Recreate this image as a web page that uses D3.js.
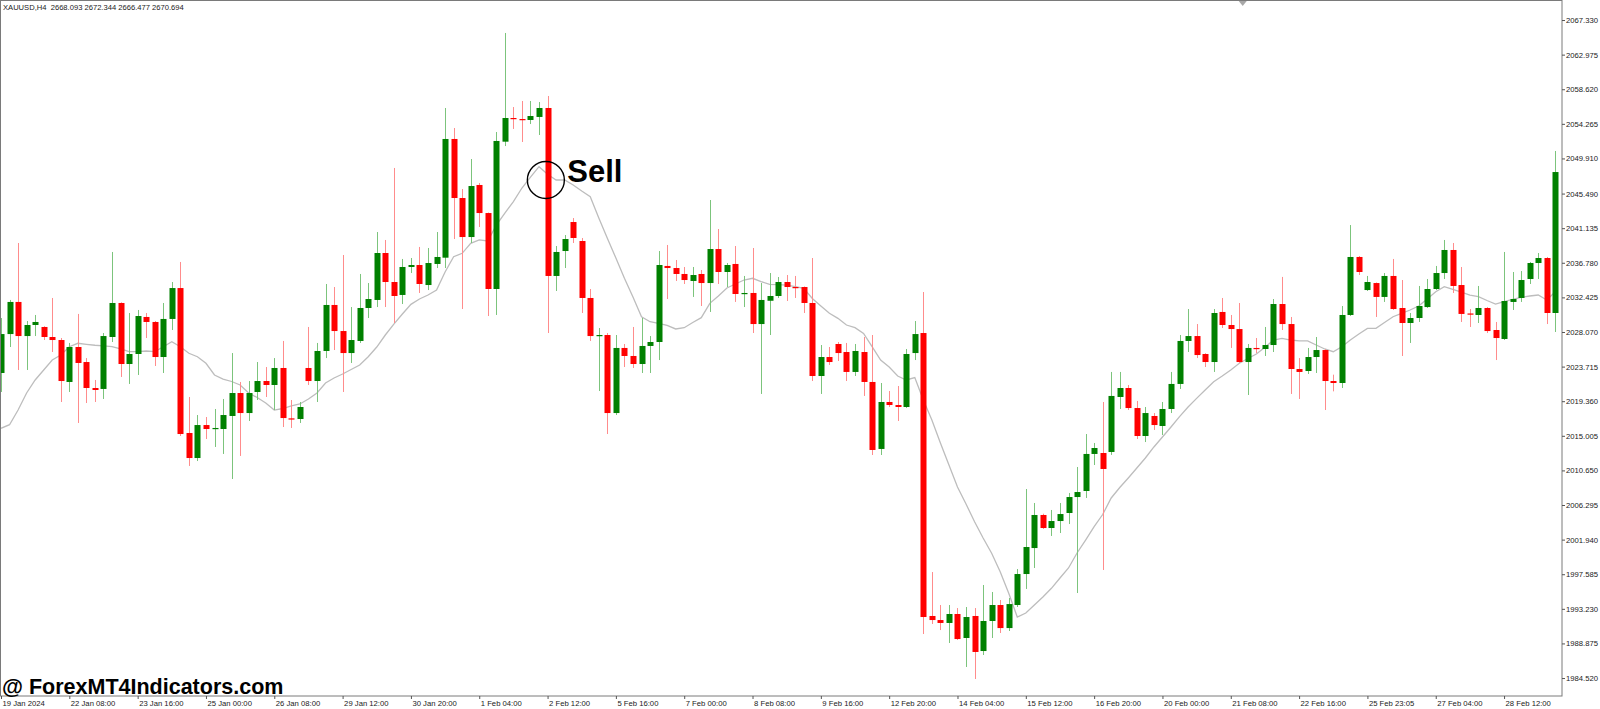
<!DOCTYPE html>
<html><head><meta charset="utf-8">
<script src="https://cdn.jsdelivr.net/npm/d3@7"></script>
<style>html,body{margin:0;padding:0;background:#fff;overflow:hidden}</style>
</head><body>
<svg id="c" width="1600" height="709"></svg>
<script>
const symbolTitle = "XAUUSD,H4  2668.093 2672.344 2666.477 2670.694";
const timeLabels = ["19 Jan 2024","22 Jan 08:00","23 Jan 16:00","25 Jan 00:00","26 Jan 08:00","29 Jan 12:00","30 Jan 20:00","1 Feb 04:00","2 Feb 12:00","5 Feb 16:00","7 Feb 00:00","8 Feb 08:00","9 Feb 16:00","12 Feb 20:00","14 Feb 04:00","15 Feb 12:00","16 Feb 20:00","20 Feb 00:00","21 Feb 08:00","22 Feb 16:00","25 Feb 23:05","27 Feb 04:00","28 Feb 12:00"];
const timeLabelBars = [0,8,16,24,32,40,48,56,64,72,80,88,96,104,112,120,128,136,144,152,160,168,176];
const priceTicks = [2067.330,2062.975,2058.620,2054.265,2049.910,2045.490,2041.135,2036.780,2032.425,2028.070,2023.715,2019.360,2015.005,2010.650,2006.295,2001.940,1997.585,1993.230,1988.875,1984.520];

const opens = [2022.91,2027.81,2031.85,2027.56,2028.95,2028.70,2027.44,2027.06,2021.78,2026.18,
2024.29,2021.02,2020.90,2027.44,2031.72,2024.04,2025.30,2029.96,2029.33,2024.92,
2029.71,2033.60,2015.36,2012.21,2016.36,2015.86,2015.86,2017.50,2020.39,2017.87,
2020.52,2021.90,2021.40,2023.54,2017.20,2017.12,2023.54,2021.90,2025.68,2031.47,
2028.19,2025.42,2026.94,2031.09,2032.10,2038.01,2034.36,2032.73,2036.25,2036.50,
2033.98,2036.63,2037.42,2052.36,2044.93,2040.02,2046.57,2043.04,2033.48,2052.02,
2055.00,2054.87,2054.75,2055.13,2056.26,2035.12,2038.26,2041.91,2039.52,2032.35,
2027.60,2027.69,2017.87,2026.06,2025.05,2024.04,2026.31,2026.81,2036.38,2036.12,
2035.37,2034.49,2035.37,2034.23,2038.51,2035.62,2036.63,2032.90,2032.98,2029.07,
2032.00,2032.60,2034.36,2033.73,2033.73,2031.72,2022.53,2024.92,2026.56,2025.55,
2023.04,2025.55,2021.78,2013.35,2019.26,2018.88,2018.63,2025.42,2027.94,1992.33,
1991.82,1991.45,1992.58,1989.56,1992.33,1987.92,1991.70,1993.71,1990.81,1993.71,
1997.61,2000.88,2005.04,2003.40,2004.28,2005.29,2007.30,2008.06,2012.72,2012.84,
2012.97,2019.89,2021.02,2018.50,2014.98,2017.50,2016.24,2018.38,2021.53,2026.94,
2027.56,2025.30,2024.29,2030.59,2028.95,2028.44,2024.29,2026.06,2025.93,2026.43,
2031.59,2029.07,2023.41,2023.16,2024.92,2025.80,2021.90,2021.65,2030.21,2037.51,
2033.35,2034.23,2032.48,2035.12,2031.09,2029.20,2029.83,2031.21,2033.48,2035.49,
2038.39,2033.98,2030.40,2030.21,2031.09,2028.32,2027.19,2031.85,2032.35,2034.74,
2036.75,2037.38,2030.46];

const highs = [2029.83,2032.10,2039.27,2029.45,2030.21,2028.80,2032.35,2027.31,2026.69,2030.34,
2024.79,2022.03,2027.94,2038.14,2031.80,2030.46,2030.84,2030.46,2029.45,2031.72,
2034.36,2036.88,2019.89,2017.62,2017.37,2018.38,2019.64,2025.42,2021.78,2021.90,
2024.29,2023.66,2024.79,2026.94,2019.51,2019.26,2028.70,2026.69,2034.11,2033.73,
2037.76,2031.21,2035.37,2034.23,2040.65,2039.65,2048.71,2037.26,2037.38,2038.77,
2038.64,2040.65,2056.26,2053.74,2046.06,2049.84,2046.82,2043.10,2053.24,2065.70,
2056.38,2057.14,2057.14,2057.01,2057.77,2038.89,2040.27,2042.41,2039.90,2033.48,
2028.57,2027.94,2027.69,2026.56,2028.70,2029.83,2027.56,2038.26,2039.02,2037.13,
2036.25,2036.25,2035.87,2044.68,2041.03,2036.75,2038.89,2035.12,2038.64,2034.23,
2035.49,2034.99,2035.24,2035.12,2033.80,2037.38,2026.43,2026.18,2026.81,2026.69,
2026.56,2027.44,2027.69,2021.65,2020.64,2021.27,2025.93,2029.45,2033.10,1997.86,
1993.71,1993.71,1993.33,1993.46,1993.33,1996.23,1995.35,1994.34,1994.59,1998.24,
2008.31,2006.55,2005.20,2005.67,2006.55,2007.81,2011.08,2015.23,2014.10,2019.26,
2023.04,2023.04,2021.40,2019.39,2018.63,2017.87,2019.26,2023.04,2027.69,2030.96,
2029.07,2025.40,2030.96,2032.35,2030.21,2031.72,2026.56,2027.31,2028.70,2032.22,
2035.00,2029.96,2024.79,2026.06,2027.44,2025.90,2022.70,2031.34,2041.53,2037.63,
2035.12,2034.30,2035.49,2037.26,2034.61,2030.46,2033.86,2034.74,2036.38,2039.65,
2039.27,2036.25,2030.96,2033.86,2031.20,2029.33,2038.14,2035.62,2035.74,2036.88,
2038.01,2037.51,2050.85];

const lows = [2020.52,2026.18,2023.29,2023.29,2027.56,2027.06,2025.55,2019.26,2020.52,2016.62,
2019.13,2019.26,2019.64,2026.81,2022.41,2021.53,2022.66,2027.31,2023.79,2022.91,
2028.32,2014.98,2011.21,2011.83,2014.60,2013.60,2012.72,2009.57,2012.47,2016.87,
2019.51,2019.89,2018.25,2016.11,2015.99,2016.62,2021.40,2019.26,2024.79,2025.80,
2020.52,2024.17,2026.69,2029.83,2031.21,2031.21,2029.20,2031.59,2035.49,2032.98,
2033.35,2036.12,2036.12,2039.77,2030.96,2039.27,2041.28,2030.08,2030.21,2051.47,
2053.62,2051.98,2054.24,2052.86,2027.94,2033.23,2036.12,2039.27,2030.46,2026.94,
2020.64,2015.23,2017.62,2023.66,2023.54,2022.91,2022.91,2024.54,2032.22,2034.49,
2034.11,2032.48,2031.34,2030.59,2034.11,2033.73,2031.85,2031.21,2027.94,2020.27,
2027.69,2032.35,2031.97,2032.35,2030.46,2021.90,2020.27,2023.92,2024.42,2021.90,
2022.53,2020.02,2012.59,2012.59,2018.63,2016.87,2018.50,2024.54,1990.06,1991.32,
1990.56,1988.93,1989.31,1985.91,1984.40,1987.42,1989.56,1990.19,1990.44,1993.46,
1995.73,1998.37,2003.28,2002.40,2002.77,2003.90,1995.22,2007.18,2011.33,1998.12,
2012.60,2018.38,2018.25,2014.60,2014.22,2015.74,2015.11,2017.87,2020.90,2025.55,
2024.79,2023.66,2023.04,2028.57,2026.06,2024.17,2020.14,2025.42,2025.05,2025.55,
2028.32,2020.27,2019.64,2022.78,2022.91,2018.25,2020.60,2021.02,2030.08,2035.24,
2033.23,2029.96,2031.85,2030.84,2025.05,2026.69,2029.33,2031.09,2033.35,2034.74,
2032.98,2029.33,2028.70,2029.20,2027.94,2024.54,2027.06,2030.84,2031.85,2034.11,
2034.74,2029.07,2028.07];

const closes = [2027.81,2031.85,2027.56,2028.95,2029.33,2027.44,2027.06,2021.90,2026.18,2024.17,
2021.02,2020.77,2027.56,2031.72,2024.04,2025.30,2030.08,2029.33,2024.92,2029.71,
2033.60,2015.23,2012.21,2016.36,2015.86,2015.99,2017.62,2020.39,2017.87,2020.39,
2021.90,2021.40,2023.54,2017.24,2017.12,2018.63,2021.90,2025.68,2031.47,2028.19,
2025.42,2027.06,2031.09,2032.22,2038.01,2034.36,2032.60,2036.25,2036.50,2034.11,
2036.75,2037.51,2052.36,2044.93,2040.02,2046.44,2043.04,2033.48,2052.11,2055.00,
2054.87,2054.75,2055.25,2056.26,2035.12,2038.14,2039.77,2039.90,2032.35,2027.56,
2027.69,2017.87,2026.06,2025.05,2024.04,2026.31,2026.81,2036.50,2036.12,2035.37,
2034.61,2035.24,2034.23,2038.51,2035.62,2036.50,2032.85,2032.98,2029.07,2032.10,
2032.60,2034.36,2033.73,2033.67,2031.72,2022.53,2024.92,2024.29,2025.42,2023.04,
2025.68,2021.78,2013.22,2019.26,2018.88,2018.63,2025.30,2027.81,1992.20,1991.82,
1991.45,1992.58,1989.43,1992.20,1987.80,1991.70,1993.71,1990.81,1993.83,1997.61,
2001.01,2005.04,2003.40,2004.28,2005.16,2007.30,2007.93,2012.72,2013.47,2010.83,
2020.02,2021.02,2018.50,2014.98,2017.87,2016.36,2018.38,2021.53,2026.94,2027.56,
2025.17,2024.29,2030.46,2028.95,2028.44,2024.29,2026.06,2025.93,2026.43,2031.59,
2029.07,2023.41,2023.04,2024.92,2025.80,2021.90,2021.65,2030.21,2037.51,2035.62,
2034.36,2032.48,2035.12,2030.96,2029.20,2029.83,2031.34,2033.48,2035.49,2038.39,
2033.86,2030.34,2030.34,2031.09,2028.19,2027.31,2031.97,2032.22,2034.61,2036.75,
2037.38,2030.46,2048.20];

const maValues = [2015.95,2016.40,2018.25,2020.39,2022.03,2023.29,2024.54,2025.17,2026.22,2026.65,
2026.52,2026.40,2026.31,2026.22,2025.93,2025.59,2025.59,2025.68,2025.59,2026.22,
2026.85,2026.22,2025.39,2024.96,2024.13,2022.66,2022.15,2021.84,2021.40,2020.39,
2019.82,2019.13,2018.25,2018.44,2018.76,2019.01,2019.64,2020.39,2021.65,2022.28,
2022.78,2023.35,2023.92,2024.96,2026.18,2027.69,2029.07,2030.33,2031.55,2032.22,
2032.72,2033.35,2035.62,2037.54,2037.97,2039.23,2039.65,2039.52,2041.53,2043.04,
2044.47,2046.19,2047.57,2048.87,2047.91,2047.20,2047.20,2046.57,2045.81,2045.10,
2042.41,2039.86,2037.38,2034.83,2032.47,2029.99,2029.36,2029.16,2028.89,2028.45,
2028.61,2029.26,2029.87,2031.68,2032.60,2033.61,2034.11,2034.61,2034.83,2034.42,
2034.07,2034.02,2033.98,2033.79,2033.57,2032.28,2031.34,2030.42,2029.79,2028.95,
2028.61,2027.88,2026.22,2024.54,2023.66,2022.53,2022.03,2022.34,2019.51,2016.99,
2014.10,2011.33,2008.56,2006.42,2004.19,2002.14,2000.22,1997.90,1995.18,1992.20,
1992.70,1993.71,1994.72,1995.81,1997.11,1998.37,2000.26,2001.89,2003.57,2005.10,
2007.18,2008.50,2009.70,2010.95,2012.21,2013.60,2014.85,2016.11,2017.41,2018.63,
2019.72,2020.77,2021.81,2022.53,2023.29,2024.13,2024.73,2025.30,2026.14,2027.06,
2027.27,2027.06,2026.94,2026.94,2026.43,2025.93,2025.59,2026.22,2027.06,2027.82,
2028.53,2028.53,2029.26,2029.99,2030.40,2030.84,2031.34,2032.22,2033.14,2033.77,
2033.44,2033.10,2032.72,2032.51,2032.03,2031.59,2031.88,2032.16,2032.43,2032.60,
2032.72,2032.10,2033.14];

const signalText = "Sell";
const signalBar = 63.8, signalPrice = 2047.2;
const watermark = "@ ForexMT4Indicators.com";

// ---------- layout ----------
const plotR = 1562, plotB = 696;
const svg = d3.select("#c");
const x = d3.scaleLinear().domain([0, opens.length - 1]).range([1, 1555.3]);
const y = d3.scaleLinear().domain([1982.26, 2069.85]).range([plotB, 0]);
const FONT = "'Liberation Sans', Arial, sans-serif";

svg.append("rect").attr("width",1600).attr("height",709).attr("fill","#fff");
svg.append("defs").append("clipPath").attr("id","pc")
  .append("rect").attr("x",1).attr("y",1).attr("width",plotR-1).attr("height",plotB-1);

const bars = d3.range(opens.length).map(i => ({i, o:opens[i], h:highs[i], l:lows[i], c:closes[i]}));
const g = svg.append("g").attr("clip-path","url(#pc)");

// moving average
g.append("path").datum(maValues)
  .attr("fill","none").attr("stroke","#bdbdbd").attr("stroke-width",1.3)
  .attr("d", d3.line().x((d,i)=>x(i)).y(d=>y(d)));

// wicks
g.selectAll("line.w").data(bars).join("line").attr("class","w")
  .attr("x1", d=>Math.round(x(d.i))+0.5).attr("x2", d=>Math.round(x(d.i))+0.5)
  .attr("y1", d=>y(d.h)).attr("y2", d=>y(d.l))
  .attr("stroke", d=> d.c>=d.o ? "#7cc47c" : "#ff8c8c").attr("stroke-width",1);

// bodies
const bw = 6;
g.selectAll("rect.b").data(bars).join("rect").attr("class","b")
  .attr("x", d=>Math.round(x(d.i))+0.5-bw/2)
  .attr("width", bw)
  .attr("y", d=>y(Math.max(d.o,d.c)))
  .attr("height", d=>Math.max(1.2, Math.abs(y(d.o)-y(d.c))))
  .attr("fill", d=> d.c>=d.o ? "#008000" : "#ff0000");

// frame
svg.append("rect").attr("x",0.5).attr("y",0.5).attr("width",plotR-0.5).attr("height",plotB-0.5)
  .attr("fill","none").attr("stroke","#7a7a7a").attr("stroke-width",1);

// chart shift marker
const sx = x(145.4);
svg.append("path").attr("d",`M${sx-4},1 L${sx+4},1 L${sx},6 Z`).attr("fill","#a8a8a8");

// price axis
const ya = svg.append("g").attr("transform",`translate(${plotR},0)`)
  .call(d3.axisRight(y).tickValues(priceTicks).tickSize(3).tickPadding(1).tickFormat(d=>d.toFixed(3)));
ya.select(".domain").remove();
ya.selectAll("line").attr("stroke","#555");
ya.selectAll("text").attr("font-family",FONT).attr("font-size","7.7px").attr("fill","#222");

// time axis
const xa = svg.append("g").attr("transform",`translate(0,${plotB})`)
  .call(d3.axisBottom(x).tickValues(timeLabelBars).tickSize(3).tickPadding(2).tickFormat((d,i)=>timeLabels[i]));
xa.select(".domain").remove();
xa.selectAll("line").attr("stroke","#555");
xa.selectAll("text").attr("font-family",FONT).attr("font-size","7.7px").attr("fill","#222")
  .attr("text-anchor","start").attr("x",1);

// title
svg.append("text").attr("x",3).attr("y",10).attr("font-family",FONT).attr("font-size","7.6px")
  .attr("fill","#222").attr("xml:space","preserve").style("white-space","pre").text(symbolTitle);

// sell annotation
const cx = x(signalBar), cy = y(signalPrice);
svg.append("circle").attr("cx",cx).attr("cy",cy).attr("r",18.5)
  .attr("fill","none").attr("stroke","#000").attr("stroke-width",1.4);
svg.append("text").attr("x",cx+21.5).attr("y",cy+2.5).attr("font-family",FONT)
  .attr("font-weight","bold").attr("font-size","31px").attr("fill","#000").text(signalText);

// watermark
svg.append("text").attr("x",2).attr("y",694).attr("font-family",FONT)
  .attr("font-weight","bold").attr("font-size","21.5px").attr("fill","#000").text(watermark);
</script>
</body></html>
